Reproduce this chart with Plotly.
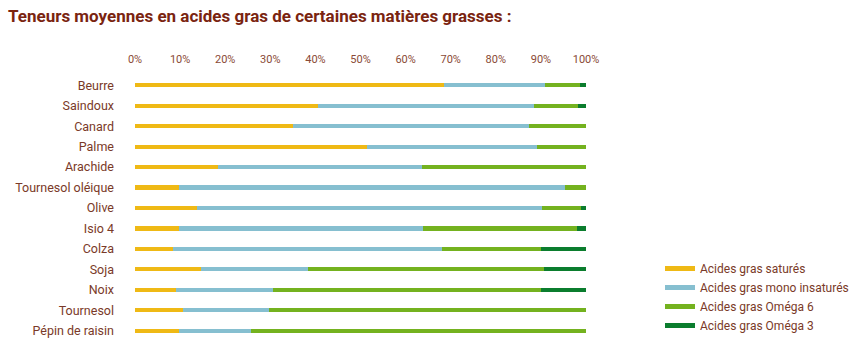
import plotly.graph_objects as go

categories = ["Beurre", "Saindoux", "Canard", "Palme", "Arachide", "Tournesol oléique",
              "Olive", "Isio 4", "Colza", "Soja", "Noix", "Tournesol", "Pépin de raisin"]

satures = [68.5, 40.6, 35.1, 51.5, 18.5, 9.8, 13.7, 9.8, 8.4, 14.6, 9.1, 10.6, 9.8]
mono = [22.4, 47.9, 52.3, 37.6, 45.2, 85.6, 76.5, 54.1, 59.7, 23.8, 21.5, 19.1, 15.9]
omega6 = [7.8, 9.7, 12.6, 10.9, 36.3, 4.6, 8.7, 34.1, 21.9, 52.3, 59.4, 70.3, 74.3]
omega3 = [1.3, 1.8, 0.0, 0.0, 0.0, 0.0, 1.1, 2.0, 10.0, 9.3, 10.0, 0.0, 0.0]

series_names = ["Acides gras saturés", "Acides gras mono insaturés",
                "Acides gras Oméga 6", "Acides gras Oméga 3"]
series_values = [satures, mono, omega6, omega3]
colors = ["#EFB915", "#86BFD0", "#74B21F", "#0B7D2E"]

tick_vals = [0, 10, 20, 30, 40, 50, 60, 70, 80, 90, 100]
tick_text = ["0%", "10%", "20%", "30%", "40%", "50%", "60%", "70%", "80%", "90%", "100%"]

label_color = "#7A3A28"
title_color = "#7A2410"
font_family = "Roboto, 'Open Sans', sans-serif"

fig = go.Figure()
for name, vals, col in zip(series_names, series_values, colors):
    fig.add_trace(go.Bar(
        y=categories, x=vals, orientation="h", name=name,
        marker=dict(color=col, line=dict(width=0)),
        width=0.2, showlegend=False, hoverinfo="x+y+name",
    ))
# legend entries drawn as short lines
for name, col in zip(series_names, colors):
    fig.add_trace(go.Scatter(
        x=[None], y=[None], mode="lines", name=name,
        line=dict(color=col, width=5), showlegend=True,
    ))

fig.update_layout(
    width=850, height=341,
    margin=dict(l=135, r=264, t=75, b=0, autoexpand=False),
    barmode="stack",
    plot_bgcolor="white", paper_bgcolor="white",
    font=dict(family=font_family, size=12, color=label_color),
    title=dict(
        text="<b>Teneurs moyennes en acides gras de certaines matières grasses :</b>",
        x=8 / 850, xref="container", xanchor="left",
        y=1 - 16 / 341, yref="container", yanchor="middle",
        font=dict(family=font_family, size=17, color=title_color),
    ),
    xaxis=dict(
        range=[0, 100], side="top", tickvals=tick_vals, ticktext=tick_text,
        showgrid=False, zeroline=False, showline=False, ticks="",
        ticklabelstandoff=9,
        tickfont=dict(size=11, color="#8A4A36"), fixedrange=True,
    ),
    yaxis=dict(
        categoryorder="array", categoryarray=categories, autorange="reversed",
        showgrid=False, zeroline=False, showline=False, ticks="",
        ticklabelstandoff=20, tickfont=dict(size=12.5, color=label_color),
    ),
    legend=dict(
        x=660 / 850, xref="container", xanchor="left",
        y=1 - 254 / 341, yref="container", yanchor="top",
        font=dict(size=12, color=label_color), bgcolor="rgba(0,0,0,0)",
        itemwidth=30, tracegroupgap=0, traceorder="normal",
    ),
    showlegend=True,
)

fig.write_html("out.html")
